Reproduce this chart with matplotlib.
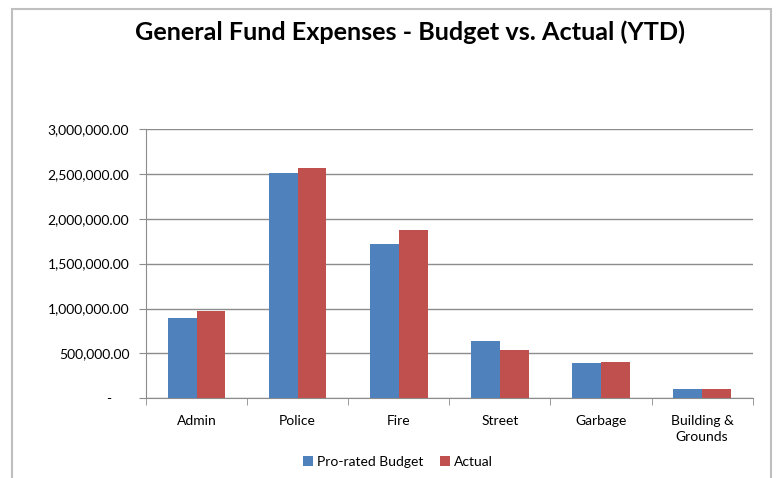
import numpy as np
import matplotlib
matplotlib.use("Agg")
import matplotlib.pyplot as plt
from matplotlib.patches import Rectangle
from matplotlib.ticker import FuncFormatter, FixedLocator

categories = ["Admin", "Police", "Fire", "Street", "Garbage", "Building &\nGrounds"]
budget = [891000, 2505000, 1722000, 638000, 390000, 107000]
actual = [972000, 2569000, 1878000, 538000, 401000, 100000]
yticks = [0, 500000, 1000000, 1500000, 2000000, 2500000, 3000000]

plt.rcParams['font.family'] = ['Lato', 'DejaVu Sans']

fig = plt.figure(figsize=(7.8, 4.78), dpi=100)
# chart frame like the excel chart border
fig.patches.append(Rectangle((12 / 780, -0.01), 759 / 780, 1 - 9 / 478 + 0.01,
                             transform=fig.transFigure, fill=False,
                             edgecolor="#bfbfbf", linewidth=1.5))

ax = fig.add_axes([146 / 780, 1 - 398.3 / 478, (752.7 - 146) / 780, (398.3 - 129) / 478])

x = np.arange(len(categories))
w = 0.284
ax.bar(x - w / 2, budget, w, color="#4F81BD", label="Pro-rated Budget", zorder=3)
ax.bar(x + w / 2, actual, w, color="#C0504D", label="Actual", zorder=3)

ax.set_xlim(-0.5, len(categories) - 0.5)
ax.set_ylim(0, 3000000)
ax.set_yticks(yticks)
ax.yaxis.set_major_formatter(FuncFormatter(lambda v, p: "-     " if v == 0 else f"{v:,.2f}"))
ax.yaxis.grid(True, color="#8c8c8c", linewidth=1, zorder=0)

ax.set_xticks(x)
ax.set_xticklabels(categories, linespacing=1.45)
ax.tick_params(axis="x", length=0, pad=12, labelsize=10)
ax.xaxis.set_minor_locator(FixedLocator(np.arange(-0.5, len(categories), 1)))
ax.tick_params(axis="x", which="minor", length=5, color="#8c8c8c")
ax.tick_params(axis="y", length=5, color="#8c8c8c", labelsize=10, pad=7)

for s in ["top", "right"]:
    ax.spines[s].set_visible(False)
ax.spines["left"].set_color("#8c8c8c")
ax.spines["bottom"].set_color("#8c8c8c")

fig.text(410 / 780, 1 - 32 / 478, "General Fund Expenses - Budget vs. Actual (YTD)",
         ha="center", va="center", fontsize=18.2, fontweight="bold")

fig.legend(loc="center", bbox_to_anchor=(398 / 780, 1 - 462 / 478), ncol=2,
           frameon=False, fontsize=10, handlelength=0.7, handleheight=0.7,
           handletextpad=0.3, columnspacing=1.2)

fig.savefig("out.png", dpi=100)
